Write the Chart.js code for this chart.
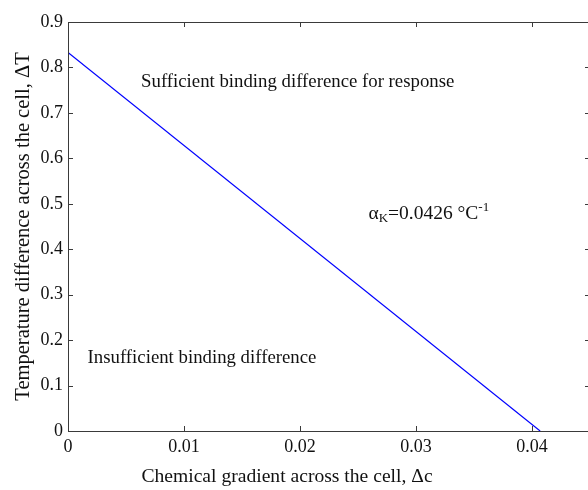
<!DOCTYPE html>
<html><head><meta charset="utf-8">
<script src="https://cdn.jsdelivr.net/npm/chart.js@4.4.1/dist/chart.umd.min.js"></script>
<style>
html,body{margin:0;padding:0;background:#fff;overflow:hidden;width:588px;height:490px}
#wrap{width:600px;height:490px}
</style></head>
<body><div id="wrap"><canvas id="c" width="600" height="490"></canvas></div>
<script>
// ---- data ----
const lineX = [0, 0.0407];
const lineY = [0.833, 0];
const xTicks = [0, 0.01, 0.02, 0.03, 0.04];
const xTickLabels = ['0', '0.01', '0.02', '0.03', '0.04'];
const yTicks = [0, 0.1, 0.2, 0.3, 0.4, 0.5, 0.6, 0.7, 0.8, 0.9];
const yTickLabels = ['0', '0.1', '0.2', '0.3', '0.4', '0.5', '0.6', '0.7', '0.8', '0.9'];
const xRange = [0, 0.045];
const yRange = [0, 0.9];
const xTitle = 'Chemical gradient across the cell, \u0394c';
const yTitle = 'Temperature difference across the cell, \u0394T';
const noteTop = 'Sufficient binding difference for response';
const noteBottom = 'Insufficient binding difference';
const alphaParts = ['\u03B1', 'K', '=0.0426 \u00B0C', '-1'];

// ---- anchors of the notes, in data units ----
const noteTopAt = [0.0198, 0.768];
const noteBottomAt = [0.01155, 0.160];
const alphaAt = [0.0259, 0.466];

const FONT = "'Liberation Serif','Times New Roman',serif";
const INK = '#111';
const FRAME = '#3a3a3a';

const framePlugin = {
  id: 'frame',
  afterDraw(chart) {
    const {ctx, chartArea: a, scales: {x, y}} = chart;
    ctx.save();
    ctx.strokeStyle = FRAME;
    ctx.lineWidth = 1;
    ctx.strokeRect(a.left + 0.5, a.top + 0.5, a.right - a.left - 1, a.bottom - a.top);
    ctx.beginPath();
    const tl = 5;
    xTicks.forEach(v => {
      const px = Math.round(x.getPixelForValue(v)) + 0.5;
      ctx.moveTo(px, a.bottom); ctx.lineTo(px, a.bottom - tl);
      ctx.moveTo(px, a.top); ctx.lineTo(px, a.top + tl);
    });
    yTicks.forEach(v => {
      const py = Math.round(y.getPixelForValue(v)) + 0.5;
      ctx.moveTo(a.left, py); ctx.lineTo(a.left + tl, py);
      ctx.moveTo(a.right, py); ctx.lineTo(a.right - tl, py);
    });
    ctx.stroke();

    ctx.fillStyle = INK;
    ctx.textBaseline = 'middle';
    ctx.textAlign = 'center';
    ctx.font = '18.8px ' + FONT;
    ctx.fillText(noteTop, x.getPixelForValue(noteTopAt[0]), y.getPixelForValue(noteTopAt[1]));
    ctx.fillText(noteBottom, x.getPixelForValue(noteBottomAt[0]), y.getPixelForValue(noteBottomAt[1]));

    // alpha_K = 0.0426 °C^-1
    ctx.textAlign = 'left';
    ctx.textBaseline = 'alphabetic';
    let ax = x.getPixelForValue(alphaAt[0]);
    const ay = y.getPixelForValue(alphaAt[1]);
    ctx.font = '19.5px ' + FONT;
    ctx.fillText(alphaParts[0], ax, ay); ax += ctx.measureText(alphaParts[0]).width;
    ctx.font = '13px ' + FONT;
    ctx.fillText(alphaParts[1], ax, ay + 3); ax += ctx.measureText(alphaParts[1]).width;
    ctx.font = '19.5px ' + FONT;
    ctx.fillText(alphaParts[2], ax, ay); ax += ctx.measureText(alphaParts[2]).width;
    ctx.font = '13px ' + FONT;
    ctx.fillText(alphaParts[3], ax, ay - 8);

    // x axis title
    ctx.font = '19.6px ' + FONT;
    ctx.textAlign = 'center';
    ctx.fillText(xTitle, 287, 482);
    ctx.restore();
  }
};

new Chart(document.getElementById('c'), {
  type: 'scatter',
  data: {
    datasets: [{
      data: lineX.map((v, i) => ({x: v, y: lineY[i]})),
      showLine: true,
      borderColor: '#0000ff',
      borderWidth: 1.2,
      pointRadius: 0,
      fill: false
    }]
  },
  options: {
    responsive: false,
    animation: false,
    devicePixelRatio: 1,
    layout: {padding: {top: 22, right: 10, left: 0, bottom: 0}},
    plugins: {legend: {display: false}, tooltip: {enabled: false}},
    scales: {
      x: {
        type: 'linear', min: xRange[0], max: xRange[1],
        afterBuildTicks: s => { s.ticks = xTicks.map(v => ({value: v})); },
        afterFit: s => { s.height = 59; },
        grid: {display: false, drawTicks: false},
        border: {display: false},
        ticks: {
          callback: (v, i) => xTickLabels[i],
          font: {family: FONT, size: 18}, color: INK, padding: 5, maxRotation: 0, autoSkip: false
        }
      },
      y: {
        type: 'linear', min: yRange[0], max: yRange[1],
        afterBuildTicks: s => { s.ticks = yTicks.map(v => ({value: v})); },
        afterFit: s => { s.width = 68; },
        grid: {display: false, drawTicks: false},
        border: {display: false},
        ticks: {
          callback: (v, i) => yTickLabels[i],
          font: {family: FONT, size: 18}, color: INK, padding: 5, autoSkip: false
        },
        title: {
          display: true, text: yTitle,
          font: {family: FONT, size: 20.5}, color: INK,
          padding: {top: 11, bottom: 0}
        }
      }
    }
  },
  plugins: [framePlugin]
});
</script>
</body></html>
